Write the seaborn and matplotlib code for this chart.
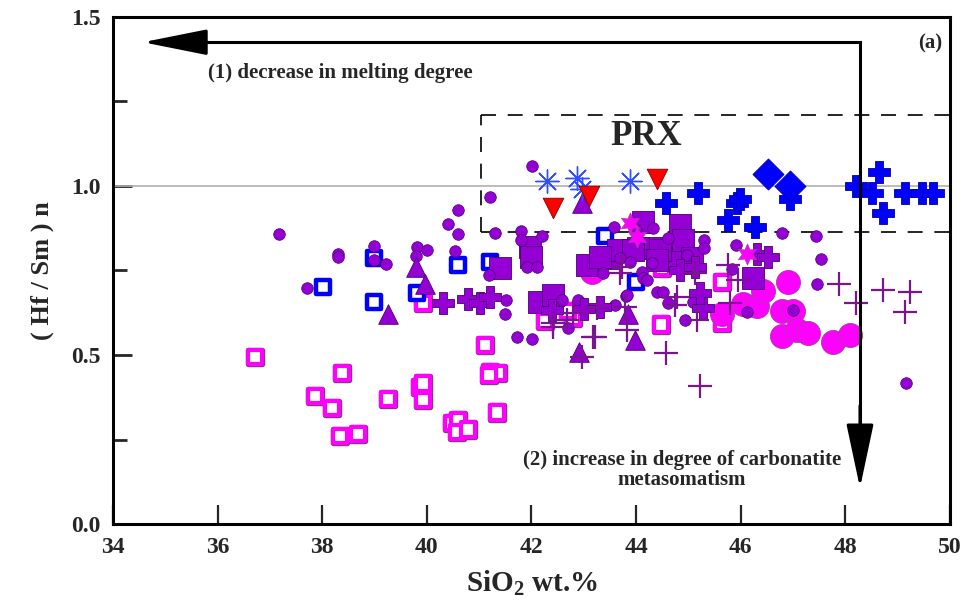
import matplotlib
matplotlib.use("Agg")
import matplotlib.pyplot as plt
import matplotlib.patheffects as pe
from matplotlib.ticker import MultipleLocator
import seaborn as sns

# ---------------- data (SiO2 wt.%, (Hf/Sm)n) ----------------
pc_x = [37.17, 38.30, 38.30, 37.71, 38.99, 38.99, 39.22, 39.81, 40.0, 39.79, 40.6, 40.4, 40.6, 40.54,
        41.21, 41.3, 42.01, 41.8, 41.8, 41.92, 42.1, 42.2, 41.19, 41.51, 41.5, 41.72, 42.01, 42.59,
        43.58, 43.37, 42.89, 42.7, 43.81, 44.0, 44.33, 44.61, 45.3, 45.3, 45.91, 46.79, 47.44, 47.54,
        47.46, 47.0, 49.16, 43.69, 43.88, 44.11, 44.3, 44.13, 44.21, 44.98, 43.83, 43.6, 44.4, 44.52,
        44.61, 44.94, 45.09, 45.84, 46.12]
pc_y = [0.858, 0.80, 0.79, 0.698, 0.822, 0.780, 0.770, 0.820, 0.81, 0.793, 0.93, 0.887, 0.858, 0.808,
        0.967, 0.861, 1.06, 0.867, 0.84, 0.76, 0.76, 0.852, 0.737, 0.663, 0.621, 0.553, 0.547, 0.663,
        0.879, 0.742, 0.663, 0.58, 0.675, 0.87, 0.876, 0.846, 0.84, 0.817, 0.825, 0.86, 0.852, 0.784,
        0.71, 0.633, 0.417, 0.787, 0.775, 0.746, 0.772, 0.728, 0.722, 0.796, 0.678, 0.648, 0.686, 0.686,
        0.654, 0.604, 0.657, 0.754, 0.627]

psq_x = [41.97, 41.99, 41.4, 43.06, 43.46, 43.66, 42.15, 42.42, 44.31, 44.65, 44.13, 44.04, 44.84,
         44.9, 44.46, 45.07, 46.24, 43.31, 43.94, 44.4]
psq_y = [0.82, 0.79, 0.757, 0.766, 0.787, 0.81, 0.657, 0.678, 0.817, 0.79, 0.893, 0.817, 0.885,
         0.84, 0.81, 0.787, 0.728, 0.79, 0.81, 0.78]

ptri_x = [39.79, 39.97, 39.26, 42.97, 43.85, 43.98, 42.9]
ptri_y = [0.76, 0.71, 0.62, 0.95, 0.62, 0.545, 0.51]

pbig_x = [40.31, 40.79, 41.02, 41.21, 42.4, 43.31, 44.84, 45.13, 45.28, 46.31, 46.52, 45.22, 43.0]
pbig_y = [0.654, 0.666, 0.654, 0.672, 0.633, 0.642, 0.75, 0.76, 0.64, 0.80, 0.79, 0.683, 0.635]

pthin_x = [47.88, 48.2, 48.72, 49.24, 49.14, 45.22, 44.57, 43.22, 42.97, 43.83, 45.17, 45.76, 45.8,
           44.75, 42.68, 42.42, 43.25, 43.69, 44.78, 45.13, 45.95, 43.79, 43.73, 43.18, 42.41, 42.8]
pthin_y = [0.71, 0.654, 0.692, 0.687, 0.627, 0.408, 0.506, 0.553, 0.494, 0.574, 0.604, 0.766, 0.654,
           0.648, 0.604, 0.595, 0.639, 0.743, 0.672, 0.743, 0.722, 0.642, 0.76, 0.553, 0.583, 0.625]

bsq_x = [38.99, 38.02, 38.99, 39.81, 40.6, 41.21, 43.41, 44.0]
bsq_y = [0.787, 0.70, 0.657, 0.683, 0.766, 0.775, 0.852, 0.715]

msq_x = [36.72, 38.38, 37.86, 38.19, 39.26, 38.34, 38.68, 39.87, 39.93, 39.93, 39.93, 41.11, 41.21,
         41.36, 41.19, 41.34, 40.48, 40.6, 40.58, 40.79, 42.26, 42.80, 44.48, 45.64, 45.64, 44.5, 42.7]
msq_y = [0.494, 0.447, 0.379, 0.343, 0.37, 0.26, 0.266, 0.405, 0.416, 0.367, 0.654, 0.53, 0.45,
         0.447, 0.44, 0.33, 0.30, 0.308, 0.272, 0.28, 0.60, 0.61, 0.59, 0.715, 0.595, 0.757, 0.63]

mc_x = [43.16, 45.64, 46.05, 46.31, 46.43, 46.91, 46.79, 47.0, 46.79, 47.08, 47.29, 47.77, 48.09]
mc_y = [0.745, 0.62, 0.65, 0.645, 0.69, 0.715, 0.63, 0.63, 0.555, 0.575, 0.565, 0.54, 0.56]

mstar_x = [43.88, 44.02, 46.12]
mstar_y = [0.89, 0.849, 0.80]

bplus_x = [44.57, 45.19, 45.93, 45.99, 45.76, 46.28, 46.94, 48.21, 48.65, 48.51, 48.72, 49.14, 49.47, 49.68]
bplus_y = [0.95, 0.98, 0.95, 0.96, 0.90, 0.88, 0.96, 1.00, 1.04, 0.98, 0.92, 0.98, 0.98, 0.98]

bdia_x = [46.52, 46.94]
bdia_y = [1.035, 1.00]

bast_x = [42.3, 42.87, 42.97, 43.89]
bast_y = [1.015, 1.024, 0.99, 1.015]

rtri_x = [42.41, 43.1, 44.4]
rtri_y = [0.935, 0.97, 1.02]

# ---------------- figure ----------------
sns.set_style("white")
plt.rcParams["font.family"] = ["Liberation Serif", "DejaVu Serif"]
plt.rcParams["font.weight"] = "bold"
plt.rcParams["mathtext.fontset"] = "custom"
plt.rcParams["mathtext.rm"] = "Liberation Serif:bold"
plt.rcParams["mathtext.bf"] = "Liberation Serif:bold"
plt.rcParams["mathtext.it"] = "Liberation Serif:bold"

fig = plt.figure(figsize=(9.66, 6.13), dpi=100)
ax = fig.add_axes([0.117, 0.145, 0.8664, 0.8275])

PURPLE = "#9400D3"
PEDGE = "#4a0070"
MAG = "#FF00FF"
BLUE = "#0000FF"

ax.axhline(1.0, color="#b0b0b0", lw=1.2, zorder=1)

# dashed PRX box
dash = dict(color="black", lw=1.2, ls=(0, (9, 7)), zorder=1)
ax.plot([41.04, 41.04], [0.865, 1.21], **dash)
ax.plot([41.04, 50], [0.865, 0.865], **dash)
ax.plot([41.04, 50], [1.21, 1.21], **dash)

def sc(x, y, **kw):
    sns.scatterplot(x=x, y=y, ax=ax, legend=False, **kw)

mag_fx = [pe.Stroke(linewidth=3.9, foreground="#803a80"), pe.Normal()]

sc(msq_x, msq_y, marker="s", s=105, facecolor="white", edgecolor=MAG, linewidth=3.0,
   path_effects=mag_fx, zorder=3)
sc(bsq_x, bsq_y, marker="s", s=110, facecolor="white", edgecolor=BLUE, linewidth=3.2, zorder=3)
sc(mc_x, mc_y, marker="o", s=300, color=MAG, edgecolor="#a040a0", linewidth=0.6, zorder=3)
sc(psq_x, psq_y, marker="s", s=240, color=PURPLE, edgecolor=PEDGE, linewidth=0.6, zorder=4)
sc(pc_x, pc_y, marker="o", s=70, color=PURPLE, edgecolor=PEDGE, linewidth=0.5, zorder=5)
sc(ptri_x, ptri_y, marker="^", s=200, color=PURPLE, edgecolor=PEDGE, linewidth=0.6, zorder=5)
sc(pbig_x, pbig_y, marker="P", s=230, color=PURPLE, edgecolor=PEDGE, linewidth=0.6, zorder=5)
sc(pthin_x, pthin_y, marker="+", s=300, color="#7a1590", linewidth=1.6, zorder=5)
sc(mstar_x, mstar_y, marker=(6, 1, 0), s=230, color=MAG, edgecolor="#a040a0", linewidth=0.5, zorder=5)
sc(bplus_x, bplus_y, marker="P", s=250, color=BLUE, edgecolor="#0000a0", linewidth=0.6, zorder=6)
sc(bdia_x, bdia_y, marker="D", s=250, color=BLUE, edgecolor="#0000a0", linewidth=0.6, zorder=6)
sc(bast_x, bast_y, marker=(8, 2, 0), s=280, color="#3050FF", linewidth=1.0, zorder=6)
sc(rtri_x, rtri_y, marker="v", s=220, color="#FF0000", edgecolor="#800000", linewidth=0.6, zorder=6)

# arrows
ax.plot([34.9, 48.28], [1.425, 1.425], color="black", lw=2.2, solid_capstyle="projecting", zorder=7)
ax.plot([48.28, 48.28], [1.425, 0.2], color="black", lw=2.2, solid_capstyle="projecting", zorder=7)
ax.annotate("", xy=(34.57, 1.425), xytext=(35.8, 1.425),
            arrowprops=dict(arrowstyle="-|>,head_length=4.0,head_width=0.8", mutation_scale=10,
                            color="black", lw=2.2, shrinkA=0, shrinkB=0), zorder=8)
ax.annotate("", xy=(48.28, 0.107), xytext=(48.28, 0.35),
            arrowprops=dict(arrowstyle="-|>,head_length=4.0,head_width=0.85", mutation_scale=10,
                            color="black", lw=2.2, shrinkA=0, shrinkB=0), zorder=8)

ax.text(35.82, 1.335, "(1) decrease in melting degree", fontsize=15, fontweight="bold", va="center")
ax.text(44.88, 0.16, "(2) increase in degree of carbonatite\nmetasomatism", fontsize=15,
        fontweight="bold", ha="center", va="center", linespacing=1.0)
ax.text(44.2, 1.145, "PRX", fontsize=25, fontweight="bold", ha="center", va="center")
ax.text(49.62, 1.42, "(a)", fontsize=15, fontweight="bold", ha="center", va="center")

ax.set_xlim(34, 50)
ax.set_ylim(0, 1.5)
ax.xaxis.set_major_locator(MultipleLocator(2))
ax.yaxis.set_minor_locator(MultipleLocator(0.25))
ax.set_yticks([0, 0.5, 1.0, 1.5])
ax.set_yticklabels(["0.0", "0.5", "1.0", "1.5"])
ax.tick_params(axis="both", which="major", direction="in", length=14, width=2.0, labelsize=17, pad=9,
               bottom=True, left=True, top=False, right=False)
ax.tick_params(axis="y", which="minor", direction="in", length=10, width=2.0, left=True, right=False)
ax.tick_params(axis="x", which="major", width=1.6)
for lab in ax.get_xticklabels() + ax.get_yticklabels():
    lab.set_fontweight("bold")

for sp in ax.spines.values():
    sp.set_visible(True)
    sp.set_linewidth(2.2)
    sp.set_color("black")

ax.set_xlabel("SiO$_{2}$ wt.%", fontsize=21, fontweight="bold", labelpad=8)
ax.set_ylabel("( Hf / Sm ) n", fontsize=19, fontweight="bold", labelpad=12)

fig.savefig("out.png", dpi=100)
